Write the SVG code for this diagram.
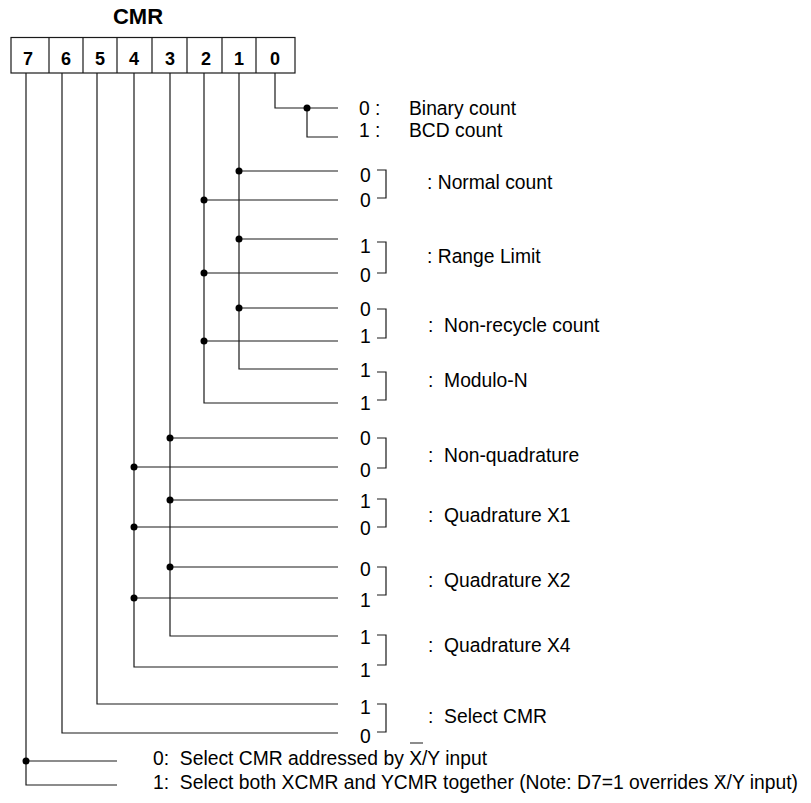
<svg xmlns="http://www.w3.org/2000/svg" width="811" height="803" viewBox="0 0 811 803">
<style>
text{font-family:"Liberation Sans",Arial,Helvetica,sans-serif;fill:#000}
.t{font-size:19.3px;white-space:pre}
.b{font-size:18px;font-weight:bold;text-anchor:middle}
.h{font-size:22px;font-weight:bold;text-anchor:middle}
.w{fill:none;stroke:#1a1a1a;stroke-width:1.2}
.d{fill:#000}
.br{fill:none;stroke:#1a1a1a;stroke-width:1.2}
</style>
<rect width="811" height="803" fill="#fff"/>
<g id="register">
<text class="h" x="138" y="24">CMR</text>
<rect x="11" y="37.5" width="284" height="35.5" fill="#fff" stroke="#1a1a1a" stroke-width="1.2"/>
<path class="w" d="M49 37.5V73M83 37.5V73M117 37.5V73M152 37.5V73M187 37.5V73M222 37.5V73M256 37.5V73"/>
<text class="b" x="28" y="65">7</text>
<text class="b" x="66" y="65">6</text>
<text class="b" x="100" y="65">5</text>
<text class="b" x="134" y="65">4</text>
<text class="b" x="170" y="65">3</text>
<text class="b" x="206" y="65">2</text>
<text class="b" x="239" y="65">1</text>
<text class="b" x="275" y="65">0</text>
</g>
<g id="connectors">
<path class="w" d="M275 73V108H338M307 108V137H338"/>
<path class="w" d="M239 73V369H338M239 171H338M239 239H338M239 308H338"/>
<path class="w" d="M204 73V403H338M204 200H338M204 273H338M204 341H338"/>
<path class="w" d="M170 73V636H338M170 438H338M170 500H338M170 567H338"/>
<path class="w" d="M134 73V667H338M134 467H338M134 527H338M134 598H338"/>
<path class="w" d="M97 73V704H338"/>
<path class="w" d="M62 73V733H338"/>
<path class="w" d="M26 73V785H117M26 761H117"/>
<circle class="d" cx="307" cy="108" r="3.5"/>
<circle class="d" cx="239" cy="171" r="3.5"/>
<circle class="d" cx="239" cy="239" r="3.5"/>
<circle class="d" cx="239" cy="308" r="3.5"/>
<circle class="d" cx="204" cy="200" r="3.5"/>
<circle class="d" cx="204" cy="273" r="3.5"/>
<circle class="d" cx="204" cy="341" r="3.5"/>
<circle class="d" cx="170" cy="438" r="3.5"/>
<circle class="d" cx="170" cy="500" r="3.5"/>
<circle class="d" cx="170" cy="567" r="3.5"/>
<circle class="d" cx="134" cy="467" r="3.5"/>
<circle class="d" cx="134" cy="527" r="3.5"/>
<circle class="d" cx="134" cy="598" r="3.5"/>
<circle class="d" cx="26" cy="761" r="3.5"/>
</g>
<g id="bit0-labels">
<text class="t" x="359" y="115">0 :</text>
<text class="t" x="409" y="115">Binary count</text>
<text class="t" x="359" y="137">1 :</text>
<text class="t" x="409" y="137">BCD count</text>
</g>
<g id="normal-count">
<text class="t" x="360" y="182">0</text>
<text class="t" x="360" y="207">0</text>
<path class="br" d="M377 170H386V198H377"/>
<text class="t" x="427" y="189">: Normal count</text>
</g>
<g id="range-limit">
<text class="t" x="360" y="253">1</text>
<text class="t" x="360" y="282">0</text>
<path class="br" d="M377 242H386V273H377"/>
<text class="t" x="427" y="263">: Range Limit</text>
</g>
<g id="non-recycle">
<text class="t" x="360" y="316">0</text>
<text class="t" x="360" y="343">1</text>
<path class="br" d="M377 309H386V338H377"/>
<text class="t" x="428" y="332">:  Non-recycle count</text>
</g>
<g id="modulo-n">
<text class="t" x="360" y="377">1</text>
<text class="t" x="360" y="410">1</text>
<path class="br" d="M377 372H386V400H377"/>
<text class="t" x="428" y="387">:  Modulo-N</text>
</g>
<g id="non-quadrature">
<text class="t" x="360" y="445">0</text>
<text class="t" x="360" y="477">0</text>
<path class="br" d="M377 438H386V468H377"/>
<text class="t" x="428" y="462">:  Non-quadrature</text>
</g>
<g id="quadrature-x1">
<text class="t" x="360" y="508">1</text>
<text class="t" x="360" y="535">0</text>
<path class="br" d="M377 499H386V527H377"/>
<text class="t" x="428" y="522">:  Quadrature X1</text>
</g>
<g id="quadrature-x2">
<text class="t" x="360" y="576">0</text>
<text class="t" x="360" y="607">1</text>
<path class="br" d="M377 567H386V595H377"/>
<text class="t" x="428" y="587">:  Quadrature X2</text>
</g>
<g id="quadrature-x4">
<text class="t" x="360" y="644">1</text>
<text class="t" x="360" y="677">1</text>
<path class="br" d="M377 635H386V665H377"/>
<text class="t" x="428" y="652">:  Quadrature X4</text>
</g>
<g id="select-cmr">
<text class="t" x="360" y="714">1</text>
<text class="t" x="360" y="743">0</text>
<path class="br" d="M377 704H386V732H377"/>
<text class="t" x="428" y="723">:  Select CMR</text>
</g>
<g id="bit7-labels">
<text class="t" x="153" y="765">0:  Select CMR addressed by X/Y input</text>
<text class="t" x="153" y="789">1:  Select both XCMR and YCMR together (Note: D7=1 overrides X/Y input)</text>
<path class="w" d="M410 743H423M719 776H724"/>
</g>
</svg>
